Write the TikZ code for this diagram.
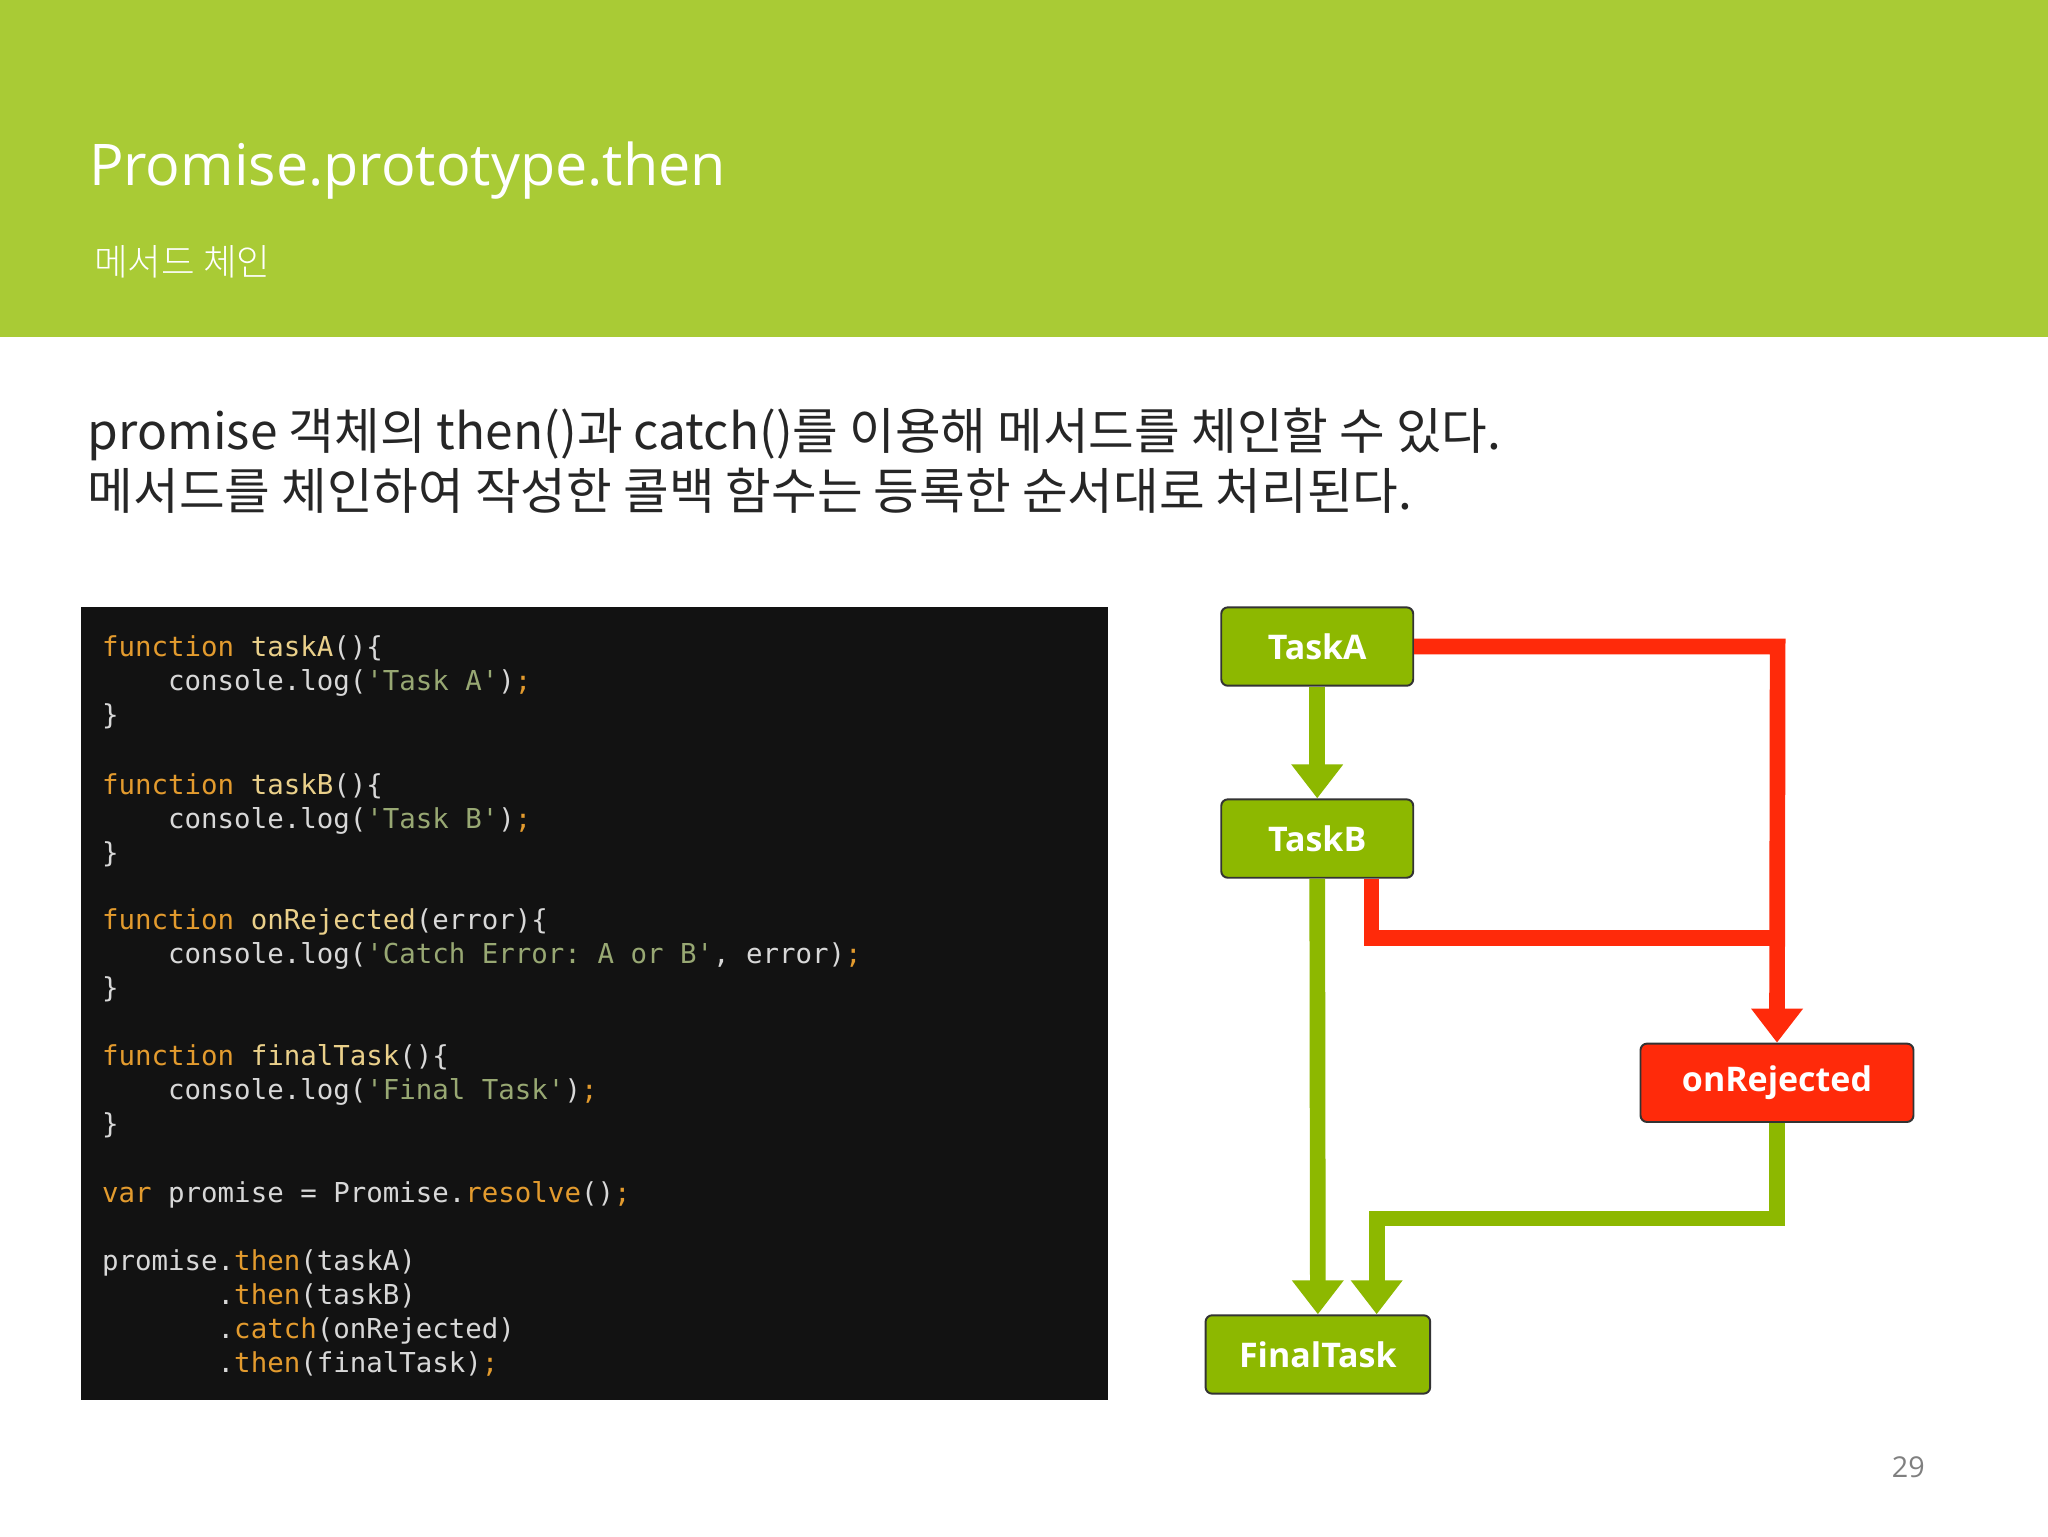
\documentclass[tikz,border=0pt]{standalone}
\usepackage{fontspec}
\setmainfont{Open Sans}
\setmonofont{DejaVu Sans Mono}
\newfontfamily\kr{Noto Sans CJK KR}
\newfontfamily\krl{Noto Sans CJK KR}[UprightFont=* Light]
\usetikzlibrary{arrows.meta}
\definecolor{hdr}{HTML}{A9CB35}
\definecolor{boxg}{HTML}{8DB800}
\definecolor{rd}{HTML}{FF2A0A}
\definecolor{kw}{HTML}{E39B2E}
\definecolor{fn}{HTML}{EAD08A}
\definecolor{st}{HTML}{98A873}
\definecolor{df}{HTML}{D8D8D8}
\newcommand{\K}[1]{\textcolor{kw}{#1}}
\newcommand{\F}[1]{\textcolor{fn}{#1}}
\newcommand{\Sx}[1]{\textcolor{st}{#1}}
\begin{document}
\begin{tikzpicture}[x=1pt,y=-1pt,
  code/.style={anchor=base west,inner sep=0,font=\ttfamily\fontsize{21}{21}\selectfont,text=df},
  task/.style={draw=black!80,line width=1.5pt,rounded corners=5pt,fill=boxg,text=white,font=\bfseries\fontsize{26}{26}\selectfont,inner sep=0},
  garr/.style={boxg,line width=12pt,-{Triangle[width=38pt,length=26pt]}},
  rarr/.style={rd,line width=12pt,-{Triangle[width=38pt,length=26pt]}},
  rline/.style={rd,line width=12pt}]
\useasboundingbox (0,0) rectangle (1568,1176);
\fill[white] (0,0) rectangle (1568,1176);
\fill[hdr] (0,0) rectangle (1568,258);
\node[anchor=base west,inner sep=0,text=white,font=\fontsize{44}{44}\selectfont] (title) at (68,142) {Promise.prototype.then};
\node[anchor=base west,inner sep=0,text=white,font=\krl\fontsize{28}{28}\selectfont] (sub) at (72,211) {메서드 체인};
\node[anchor=base west,inner sep=0,text=black!85,font=\kr\fontsize{38}{38}\selectfont] (l1) at (67,344) {promise 객체의 then()과 catch()를 이용해 메서드를 체인할 수 있다.};
\node[anchor=base west,inner sep=0,text=black!85,font=\kr\fontsize{38}{38}\selectfont] (l2) at (67,390) {메서드를 체인하여 작성한 콜백 함수는 등록한 순서대로 처리된다.};
\fill[black!93] (62,465) rectangle (848,1072);
\node[code] (c1) at (78,503) {\K{function} \F{taskA}()\{};
\node[code] (c2) at (78,529) {\ \ \ \ console.log(\Sx{'Task A'})\K{;}};
\node[code] (c3) at (78,555) {\}};
\node[code] (c4) at (78,608) {\K{function} \F{taskB}()\{};
\node[code] (c5) at (78,634) {\ \ \ \ console.log(\Sx{'Task B'})\K{;}};
\node[code] (c6) at (78,660) {\}};
\node[code] (c7) at (78,712) {\K{function} \F{onRejected}(error)\{};
\node[code] (c8) at (78,738) {\ \ \ \ console.log(\Sx{'Catch Error: A or B'}, error)\K{;}};
\node[code] (c9) at (78,764) {\}};
\node[code] (c10) at (78,816) {\K{function} \F{finalTask}()\{};
\node[code] (c11) at (78,842) {\ \ \ \ console.log(\Sx{'Final Task'})\K{;}};
\node[code] (c12) at (78,868) {\}};
\node[code] (c13) at (78,921) {\K{var} promise = Promise.\K{resolve}()\K{;}};
\node[code] (c14) at (78,973) {promise.\K{then}(taskA)};
\node[code] (c15) at (78,999) {\ \ \ \ \ \ \ .\K{then}(taskB)};
\node[code] (c16) at (78,1025) {\ \ \ \ \ \ \ .\K{catch}(onRejected)};
\node[code] (c17) at (78,1051) {\ \ \ \ \ \ \ .\K{then}(finalTask)\K{;}};
\node[task,minimum width=147pt,minimum height=60pt] (A) at (1008.5,495) {TaskA};
\node[task,minimum width=147pt,minimum height=60pt] (B) at (1008.5,642) {TaskB};
\node[task,minimum width=209pt,minimum height=60pt,fill=rd] (R) at (1360.5,829) {onRejected};
\node[task,minimum width=172pt,minimum height=60pt] (F) at (1009,1037) {FinalTask};
\coordinate (rc) at (1361,495);
\coordinate (bj) at (1050,718);
\coordinate (gj) at (1054,933);
\draw[rarr] (A.east) -- (rc) -- (R.north);
\draw[rline] (B.south -| bj) -- (bj) -- (bj -| rc);
\draw[garr] (A.south) -- (B.north);
\draw[garr] (B.south) -- (F.north);
\draw[garr] (R.south) -- (R.south |- gj) -- (gj) -- (gj |- F.north);
\node[anchor=base,inner sep=0,text=black!50,font=\fontsize{22}{22}\selectfont] (pg) at (1461,1131) {29};
\end{tikzpicture}
\end{document}
